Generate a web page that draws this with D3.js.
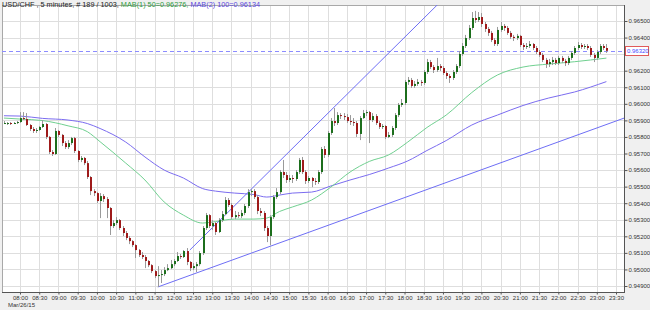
<!DOCTYPE html>
<html>
<head>
<meta charset="utf-8">
<script src="https://cdnjs.cloudflare.com/ajax/libs/d3/7.8.5/d3.min.js"></script>
<style>
  body { margin: 0; background: #f0f0f0; }
  svg { display: block; font-family: "Liberation Sans", Arial, sans-serif; }
</style>
</head>
<body>
<div id="vis"></div>
<script>
// chart size (the whole window)
const width = 650, height = 310;
// plot box inside the window
const plot = { left: 2, top: 5, right: 624, bottom: 292 };

// 5 minute bars, first one at 07:35 on Mar/26/15
const firstBar = new Date(2015, 2, 26, 7, 35);
const barMinutes = 5;
const firstOpen = 0.95884;

const closes = [
  0.95884, 0.95884, 0.95878, 0.95884, 0.95890, 0.95914, 0.95908, 0.95872, 0.95848, 0.95836,
  0.95842, 0.95860, 0.95878, 0.95800, 0.95709, 0.95697, 0.95836, 0.95812, 0.95763, 0.95739,
  0.95763, 0.95793, 0.95715, 0.95661, 0.95673, 0.95642, 0.95558, 0.95473, 0.95461, 0.95413,
  0.95443, 0.95425, 0.95371, 0.95262, 0.95280, 0.95298, 0.95250, 0.95220, 0.95190, 0.95171,
  0.95147, 0.95117, 0.95087, 0.95075, 0.95051, 0.95026, 0.94990, 0.94960, 0.94966, 0.94972,
  0.94996, 0.95008, 0.95032, 0.95051, 0.95081, 0.95075, 0.95111, 0.95045, 0.95008, 0.95020,
  0.95032, 0.95099, 0.95250, 0.95328, 0.95262, 0.95280, 0.95226, 0.95298, 0.95334, 0.95419,
  0.95389, 0.95316, 0.95328, 0.95322, 0.95341, 0.95383, 0.95467, 0.95473, 0.95437, 0.95353,
  0.95341, 0.95250, 0.95202, 0.95316, 0.95437, 0.95467, 0.95588, 0.95570, 0.95540, 0.95552,
  0.95546, 0.95588, 0.95661, 0.95588, 0.95534, 0.95552, 0.95534, 0.95528, 0.95588, 0.95727,
  0.95691, 0.95824, 0.95896, 0.95884, 0.95932, 0.95926, 0.95920, 0.95896, 0.95890, 0.95884,
  0.95818, 0.95914, 0.95944, 0.95950, 0.95902, 0.95926, 0.95884, 0.95860, 0.95866, 0.95800,
  0.95812, 0.95854, 0.95932, 0.95993, 0.96005, 0.96132, 0.96144, 0.96108, 0.96120, 0.96132,
  0.96126, 0.96192, 0.96252, 0.96222, 0.96204, 0.96228, 0.96216, 0.96186, 0.96168, 0.96156,
  0.96192, 0.96228, 0.96301, 0.96349, 0.96397, 0.96458, 0.96518, 0.96506, 0.96524, 0.96482,
  0.96452, 0.96428, 0.96385, 0.96361, 0.96446, 0.96470, 0.96458, 0.96428, 0.96404, 0.96397,
  0.96410, 0.96355, 0.96343, 0.96349, 0.96361, 0.96337, 0.96313, 0.96295, 0.96265, 0.96240,
  0.96252, 0.96265, 0.96246, 0.96277, 0.96259, 0.96246, 0.96277, 0.96307, 0.96337, 0.96355,
  0.96343, 0.96349, 0.96337, 0.96295, 0.96277, 0.96313, 0.96349, 0.96337, 0.96320
];

const highs = [
  0.95896, 0.95890, 0.95890, 0.95890, 0.95896, 0.95950, 0.95950, 0.95944, 0.95878, 0.95860,
  0.95854, 0.95866, 0.95902, 0.95884, 0.95806, 0.95721, 0.95854, 0.95842, 0.95818, 0.95775,
  0.95781, 0.95800, 0.95800, 0.95721, 0.95685, 0.95679, 0.95655, 0.95564, 0.95485, 0.95467,
  0.95461, 0.95455, 0.95437, 0.95377, 0.95298, 0.95316, 0.95304, 0.95262, 0.95232, 0.95202,
  0.95177, 0.95153, 0.95123, 0.95105, 0.95087, 0.95057, 0.95032, 0.94996, 0.95020, 0.94996,
  0.95014, 0.95032, 0.95057, 0.95063, 0.95105, 0.95093, 0.95117, 0.95129, 0.95051, 0.95038,
  0.95045, 0.95111, 0.95262, 0.95341, 0.95334, 0.95298, 0.95286, 0.95310, 0.95353, 0.95437,
  0.95431, 0.95401, 0.95353, 0.95347, 0.95359, 0.95395, 0.95485, 0.95485, 0.95485, 0.95449,
  0.95371, 0.95353, 0.95262, 0.95328, 0.95449, 0.95491, 0.95600, 0.95661, 0.95588, 0.95570,
  0.95570, 0.95600, 0.95673, 0.95679, 0.95600, 0.95564, 0.95558, 0.95552, 0.95600, 0.95739,
  0.95745, 0.95836, 0.95914, 0.95975, 0.95950, 0.95944, 0.95944, 0.95938, 0.95932, 0.95914,
  0.95896, 0.95926, 0.95963, 0.95963, 0.95957, 0.95944, 0.95938, 0.95896, 0.95878, 0.95872,
  0.95830, 0.95866, 0.95944, 0.96005, 0.96029, 0.96144, 0.96162, 0.96156, 0.96138, 0.96150,
  0.96144, 0.96204, 0.96271, 0.96265, 0.96234, 0.96277, 0.96240, 0.96228, 0.96198, 0.96180,
  0.96204, 0.96240, 0.96319, 0.96367, 0.96416, 0.96476, 0.96554, 0.96561, 0.96554, 0.96548,
  0.96494, 0.96464, 0.96440, 0.96397, 0.96464, 0.96494, 0.96482, 0.96470, 0.96440, 0.96416,
  0.96422, 0.96416, 0.96367, 0.96367, 0.96379, 0.96367, 0.96349, 0.96325, 0.96307, 0.96277,
  0.96271, 0.96283, 0.96277, 0.96289, 0.96289, 0.96271, 0.96289, 0.96319, 0.96349, 0.96373,
  0.96367, 0.96361, 0.96361, 0.96349, 0.96307, 0.96325, 0.96361, 0.96361, 0.96361
];

const lows = [
  0.95878, 0.95872, 0.95872, 0.95878, 0.95878, 0.95884, 0.95902, 0.95866, 0.95836, 0.95824,
  0.95824, 0.95836, 0.95854, 0.95787, 0.95697, 0.95685, 0.95691, 0.95800, 0.95745, 0.95727,
  0.95727, 0.95751, 0.95703, 0.95648, 0.95648, 0.95630, 0.95546, 0.95449, 0.95443, 0.95401,
  0.95310, 0.95407, 0.95310, 0.95208, 0.95250, 0.95268, 0.95238, 0.95202, 0.95177, 0.95153,
  0.95135, 0.95069, 0.95075, 0.95063, 0.95008, 0.95014, 0.94978, 0.94948, 0.94894, 0.94918,
  0.94960, 0.94990, 0.95002, 0.95020, 0.95045, 0.95063, 0.95069, 0.95026, 0.94990, 0.94996,
  0.94984, 0.95020, 0.95087, 0.95238, 0.95250, 0.95238, 0.95208, 0.95220, 0.95286, 0.95328,
  0.95377, 0.95304, 0.95304, 0.95310, 0.95310, 0.95328, 0.95371, 0.95443, 0.95425, 0.95334,
  0.95322, 0.95232, 0.95165, 0.95147, 0.95304, 0.95425, 0.95455, 0.95552, 0.95522, 0.95528,
  0.95522, 0.95534, 0.95576, 0.95576, 0.95516, 0.95522, 0.95497, 0.95510, 0.95516, 0.95576,
  0.95673, 0.95679, 0.95812, 0.95866, 0.95872, 0.95908, 0.95902, 0.95884, 0.95872, 0.95866,
  0.95800, 0.95781, 0.95908, 0.95926, 0.95763, 0.95890, 0.95872, 0.95848, 0.95848, 0.95787,
  0.95793, 0.95800, 0.95842, 0.95920, 0.95981, 0.95993, 0.96114, 0.96096, 0.96096, 0.96108,
  0.96108, 0.96114, 0.96180, 0.96210, 0.96186, 0.96192, 0.96198, 0.96174, 0.96150, 0.96126,
  0.96144, 0.96180, 0.96216, 0.96289, 0.96337, 0.96385, 0.96446, 0.96488, 0.96494, 0.96464,
  0.96434, 0.96410, 0.96373, 0.96349, 0.96349, 0.96434, 0.96440, 0.96416, 0.96391, 0.96379,
  0.96385, 0.96343, 0.96325, 0.96331, 0.96337, 0.96325, 0.96301, 0.96283, 0.96252, 0.96216,
  0.96222, 0.96234, 0.96234, 0.96234, 0.96246, 0.96228, 0.96234, 0.96265, 0.96295, 0.96325,
  0.96331, 0.96331, 0.96325, 0.96283, 0.96252, 0.96265, 0.96301, 0.96325, 0.96307
];

// moving averages read at some bar numbers
const maBars = [0, 5, 12, 20, 26, 30, 38, 44, 50, 56, 62, 66, 72, 78, 82, 86, 90, 96, 102, 108,
                114, 120, 126, 132, 138, 146, 154, 162, 170, 178, 188];
const ma50 = [0.95914, 0.95908, 0.95899, 0.95867, 0.95832, 0.95771, 0.95642, 0.95540, 0.95407, 0.95328,
              0.95280, 0.95289, 0.95304, 0.95304, 0.95310, 0.95350, 0.95377, 0.95419, 0.95497, 0.95588,
              0.95652, 0.95691, 0.95769, 0.95857, 0.95932, 0.96068, 0.96174, 0.96222, 0.96240, 0.96254, 0.96276];
const ma100 = [0.95928, 0.95926, 0.95912, 0.95902, 0.95881, 0.95851, 0.95769, 0.95679, 0.95600, 0.95552,
               0.95488, 0.95473, 0.95461, 0.95452, 0.95437, 0.95449, 0.95461, 0.95467, 0.95504, 0.95540,
               0.95573, 0.95612, 0.95655, 0.95718, 0.95778, 0.95872, 0.95932, 0.95990, 0.96035, 0.96071, 0.96134];

// trend lines: [bar, price] pairs
const trendLow = [[48, 0.94894], [188, 0.95875]];
const trendHigh = [[58, 0.95117], [130, 0.96497]];

const lastPrice = 0.96320;
const yTicks = [0.949, 0.950, 0.951, 0.952, 0.953, 0.954, 0.955, 0.956, 0.957,
                0.958, 0.959, 0.960, 0.961, 0.962, 0.963, 0.964, 0.965];

const barTime = i => d3.timeMinute.offset(firstBar, barMinutes * i);
const bars = closes.map((c, i) => ({
  t: barTime(i),
  open: i === 0 ? firstOpen : closes[i - 1],
  high: highs[i], low: lows[i], close: c
}));

const xScale = d3.scaleTime()
  .domain([new Date(2015, 2, 26, 8, 0), new Date(2015, 2, 26, 23, 30)])
  .range([20, 616]);
const yScale = d3.scaleLinear().domain([0.949, 0.965]).range([286, 21]);
const xTicks = d3.timeMinute.every(30).range(new Date(2015, 2, 26, 8, 0), new Date(2015, 2, 26, 23, 31));

const svg = d3.select('#vis').append('svg')
  .attr('width', width).attr('height', height);

svg.append('rect').attr('width', width).attr('height', height).attr('fill', '#f0f0f0');

svg.append('defs').append('clipPath').attr('id', 'clip')
  .append('rect')
  .attr('x', plot.left).attr('y', plot.top)
  .attr('width', plot.right - plot.left).attr('height', plot.bottom - plot.top);

svg.append('rect')
  .attr('x', plot.left + 0.5).attr('y', plot.top + 0.5)
  .attr('width', plot.right - plot.left).attr('height', plot.bottom - plot.top)
  .attr('fill', '#fff').attr('stroke', '#a8a8a8');

// grid
const grid = svg.append('g').attr('stroke', '#dedede').attr('stroke-width', 1);
grid.selectAll('.vg').data(xTicks).join('line')
  .attr('x1', d => Math.round(xScale(d)) + 0.5).attr('x2', d => Math.round(xScale(d)) + 0.5)
  .attr('y1', plot.top + 1).attr('y2', plot.bottom);
grid.selectAll('.hg').data(yTicks).join('line')
  .attr('x1', plot.left + 1).attr('x2', plot.right)
  .attr('y1', d => Math.round(yScale(d)) + 0.5).attr('y2', d => Math.round(yScale(d)) + 0.5);

const inner = svg.append('g').attr('clip-path', 'url(#clip)');

// current price dashed line
inner.append('line')
  .attr('x1', plot.left).attr('x2', plot.right)
  .attr('y1', Math.round(yScale(lastPrice)) + 0.5).attr('y2', Math.round(yScale(lastPrice)) + 0.5)
  .style('stroke', '#8c8cff').style('stroke-width', 1).style('stroke-dasharray', '4,3');

// moving averages
const maLine = d3.line()
  .x((d, i) => xScale(barTime(maBars[i])))
  .y(d => yScale(d))
  .curve(d3.curveMonotoneX);
inner.append('path').attr('d', maLine(ma100))
  .attr('fill', 'none').attr('stroke', '#7b6cf0').attr('stroke-width', 1);
inner.append('path').attr('d', maLine(ma50))
  .attr('fill', 'none').attr('stroke', '#70d090').attr('stroke-width', 1);

// trend lines, extended to the right edge
function drawTrend(pts) {
  const [[b0, p0], [b1, p1]] = pts;
  const x0 = xScale(barTime(b0)), y0 = yScale(p0);
  const x1 = xScale(barTime(b1)), y1 = yScale(p1);
  const slope = (y1 - y0) / (x1 - x0);
  const xEnd = plot.right;
  inner.append('line')
    .attr('x1', x0).attr('y1', y0)
    .attr('x2', xEnd).attr('y2', y0 + slope * (xEnd - x0))
    .style('stroke', '#6e6ef5').style('stroke-width', 1);
}
drawTrend(trendLow);
drawTrend(trendHigh);

// candles
const candle = inner.selectAll('.candle').data(bars).join('g').attr('class', 'candle');
candle.append('line')
  .attr('x1', d => Math.round(xScale(d.t)) + 0.5).attr('x2', d => Math.round(xScale(d.t)) + 0.5)
  .attr('y1', d => yScale(d.high)).attr('y2', d => yScale(d.low))
  .attr('stroke', '#9a9a9a');
candle.append('rect')
  .attr('x', d => Math.round(xScale(d.t)))
  .attr('width', 2)
  .attr('y', d => yScale(Math.max(d.open, d.close)))
  .attr('height', d => Math.max(1, Math.abs(yScale(d.open) - yScale(d.close))))
  .attr('fill', d => d.close >= d.open ? '#1c6e1c' : '#9e1a1a');

// axes
const axisColor = '#555';
const fontSize = 6;
const yAxis = svg.append('g')
  .attr('transform', `translate(${plot.right + 0.5},0)`)
  .call(d3.axisRight(yScale).tickValues(yTicks).tickFormat(d3.format('.5f')).tickSize(3).tickPadding(1));
yAxis.select('.domain').remove();
yAxis.selectAll('line').attr('stroke', axisColor);
yAxis.selectAll('text').attr('font-size', fontSize).attr('fill', '#333')
  .attr('font-family', '"Liberation Sans", Arial, sans-serif');
// the tick label under the current price box is hidden, as in the original
yAxis.selectAll('.tick').filter(d => Math.abs(yScale(d) - yScale(lastPrice)) < 7)
  .select('text').remove();

const xAxis = svg.append('g')
  .attr('transform', `translate(0,${plot.bottom + 0.5})`)
  .call(d3.axisBottom(xScale).tickValues(xTicks).tickFormat(d3.timeFormat('%H:%M')).tickSize(2).tickPadding(1.5));
xAxis.select('.domain').remove();
xAxis.selectAll('line').attr('stroke', axisColor);
xAxis.selectAll('text').attr('font-size', fontSize).attr('fill', '#333')
  .attr('font-family', '"Liberation Sans", Arial, sans-serif');

svg.append('line').attr('x1', plot.right + 0.5).attr('x2', plot.right + 0.5)
  .attr('y1', plot.top).attr('y2', plot.bottom + 1).attr('stroke', axisColor);
svg.append('line').attr('x1', plot.left).attr('x2', plot.right + 1)
  .attr('y1', plot.bottom + 0.5).attr('y2', plot.bottom + 0.5).attr('stroke', axisColor);

svg.append('text')
  .attr('x', 8).attr('y', 306.5)
  .attr('font-size', fontSize).attr('fill', '#333')
  .text('Mar/26/15');

// current price label
const ly = Math.round(yScale(lastPrice));
svg.append('rect')
  .attr('x', plot.right + 1.5).attr('y', ly - 4.5)
  .attr('width', 23).attr('height', 9)
  .attr('fill', '#fff').attr('stroke', '#e05a5a');
svg.append('text')
  .attr('x', plot.right + 3).attr('y', ly + 2.2)
  .attr('font-size', fontSize).attr('fill', '#4a4aff')
  .text(d3.format('.5f')(lastPrice));

// title
const title = svg.append('text').attr('x', 2).attr('y', 6.6).attr('font-size', 7.3);
title.append('tspan').attr('fill', '#222').text('USD/CHF , 5 minutes, # 189 / 1003, ');
title.append('tspan').attr('fill', '#2e9e3e').text('MAB(1) 50=' + d3.format('.5f')(ma50[ma50.length - 1]) + ', ');
title.append('tspan').attr('fill', '#5a46e0').text('MAB(2) 100=' + d3.format('.5f')(ma100[ma100.length - 1]));
</script>
</body>
</html>
